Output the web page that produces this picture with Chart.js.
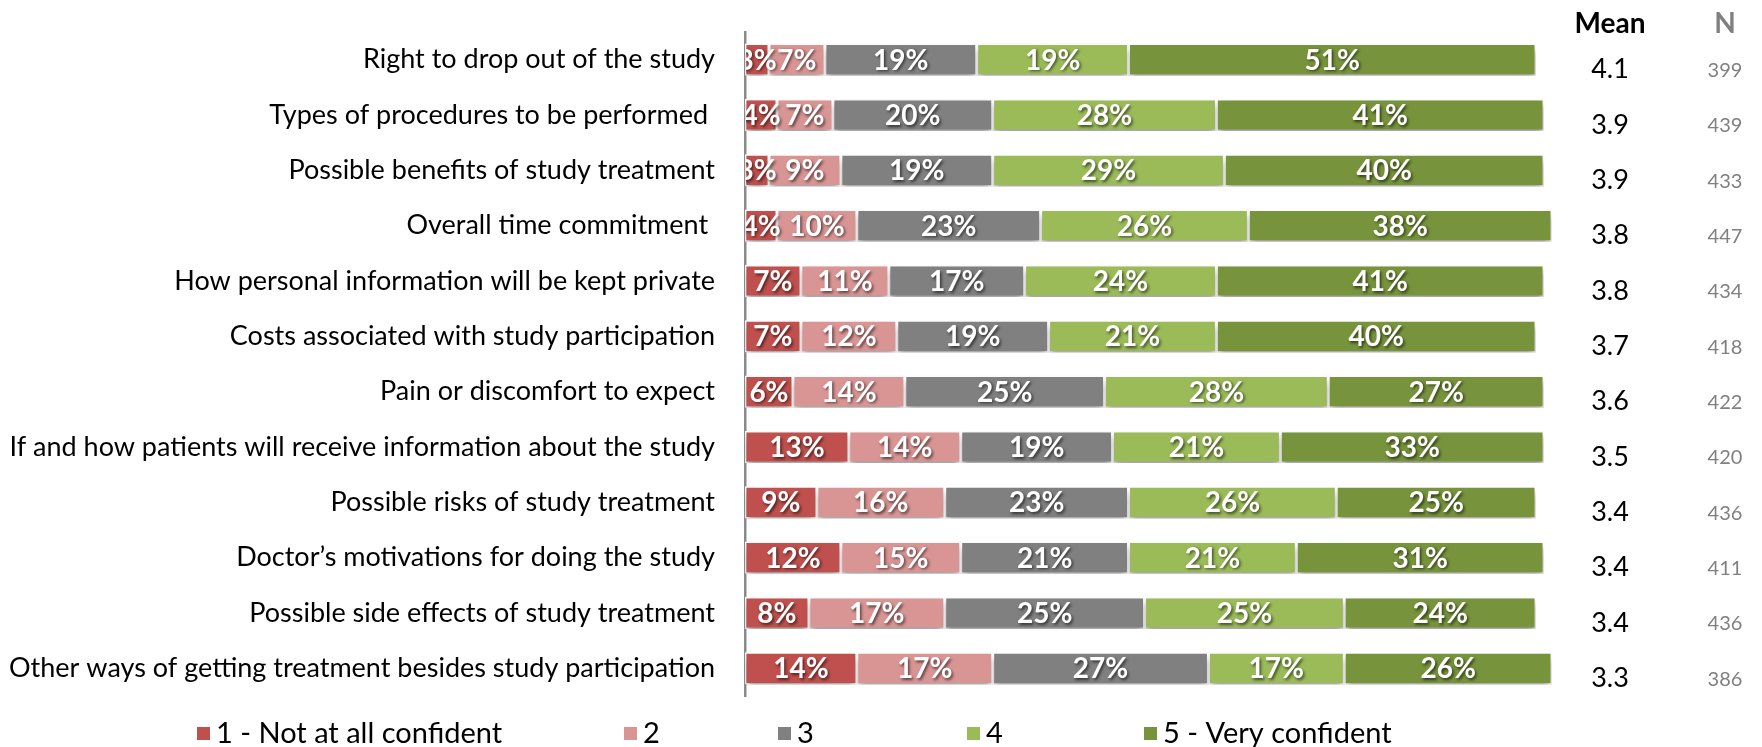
<!DOCTYPE html>
<html>
<head>
<meta charset="utf-8">
<script src="https://cdn.jsdelivr.net/npm/chart.js@4.4.0/dist/chart.umd.min.js"></script>
<style>
  html, body { margin: 0; padding: 0; background: #fff; }
  #wrap { width: 1762px; height: 747px; }
</style>
</head>
<body>
<div id="wrap"><canvas id="chart"></canvas></div>
<script>
// Confidence in understanding each aspect of the study
const items = [
  'Right to drop out of the study',
  'Types of procedures to be performed ',
  'Possible benefits of study treatment',
  'Overall time commitment ',
  'How personal information will be kept private',
  'Costs associated with study participation',
  'Pain or discomfort to expect',
  'If and how patients will receive information about the study',
  'Possible risks of study treatment',
  'Doctor\u2019s motivations for doing the study',
  'Possible side effects of study treatment',
  'Other ways of getting treatment besides study participation'
];
const notAtAll      = [3, 4, 3, 4, 7, 7, 6, 13, 9, 12, 8, 14];
const level2        = [7, 7, 9, 10, 11, 12, 14, 14, 16, 15, 17, 17];
const level3        = [19, 20, 19, 23, 17, 19, 25, 19, 23, 21, 25, 27];
const level4        = [19, 28, 29, 26, 24, 21, 28, 21, 26, 21, 25, 17];
const veryConfident = [51, 41, 40, 38, 41, 40, 27, 33, 25, 31, 24, 26];
const means  = ['4.1', '3.9', '3.9', '3.8', '3.8', '3.7', '3.6', '3.5', '3.4', '3.4', '3.4', '3.3'];
const counts = [399, 439, 433, 447, 434, 418, 422, 420, 436, 411, 436, 386];
const levelNames  = ['1 - Not at all confident', '2', '3', '4', '5 - Very confident'];
const levelColors = ['#C0504D', '#D99594', '#808080', '#9BBB59', '#77933C'];

const FONT = "Lato, 'Open Sans', sans-serif";

// soft drop shadow under the bars + white % labels on each segment
const barDecor = {
  id: 'barDecor',
  beforeDatasetsDraw(chart) {
    const ctx = chart.ctx;
    ctx.save();
    ctx.shadowColor = 'rgba(0,0,0,0.38)';
    ctx.shadowBlur = 7;
    ctx.shadowOffsetX = 0;
    ctx.shadowOffsetY = 5;
  },
  afterDatasetsDraw(chart) {
    const ctx = chart.ctx;
    ctx.restore();
    const area = chart.chartArea;
    ctx.save();
    ctx.beginPath();
    ctx.rect(area.left + 1, 0, chart.width, chart.height);
    ctx.clip();
    ctx.font = 'bold 28px ' + FONT;
    ctx.textAlign = 'center';
    ctx.textBaseline = 'middle';
    ctx.fillStyle = '#fff';
    ctx.shadowColor = 'rgba(0,0,0,0.6)';
    ctx.shadowBlur = 3;
    ctx.shadowOffsetX = 1.5;
    ctx.shadowOffsetY = 1.5;
    chart.data.datasets.forEach((ds, di) => {
      chart.getDatasetMeta(di).data.forEach((bar, i) => {
        const x = (bar.x + bar.base) / 2;
        ctx.fillText(ds.data[i] + '%', x, bar.y + 1);
      });
    });
    ctx.restore();
  }
};

// Mean and N columns to the right of the bars
const sideColumns = {
  id: 'sideColumns',
  afterDraw(chart) {
    const ctx = chart.ctx;
    const y = chart.scales.y;
    const meanX = 1610, nX = 1725;
    ctx.save();
    ctx.textAlign = 'center';
    ctx.textBaseline = 'middle';
    ctx.font = 'bold 28px ' + FONT;
    ctx.fillStyle = '#000';
    ctx.fillText('Mean', meanX, 24);
    ctx.fillStyle = '#808080';
    ctx.fillText('N', nX, 24);
    means.forEach((m, i) => {
      const py = y.getPixelForValue(i);
      ctx.font = '27px ' + FONT;
      ctx.fillStyle = '#000';
      ctx.fillText(m, meanX, py + 10);
      ctx.font = '20px ' + FONT;
      ctx.fillStyle = '#808080';
      ctx.fillText(String(counts[i]), nX, py + 11);
    });
    ctx.restore();
  }
};

// legend row along the bottom
const bottomLegend = {
  id: 'bottomLegend',
  afterDraw(chart) {
    const ctx = chart.ctx;
    const xs = [197, 624, 778, 967, 1144];
    const ly = 733;
    ctx.save();
    ctx.font = '29px ' + FONT;
    ctx.textBaseline = 'middle';
    ctx.textAlign = 'left';
    chart.data.datasets.forEach((ds, i) => {
      ctx.fillStyle = ds.backgroundColor;
      ctx.fillRect(xs[i], ly - 6, 13, 13);
      ctx.fillStyle = '#000';
      ctx.fillText(ds.label, xs[i] + 19, ly + 1);
    });
    ctx.restore();
  }
};

const seriesData = [notAtAll, level2, level3, level4, veryConfident];

new Chart(document.getElementById('chart'), {
  type: 'bar',
  data: {
    labels: items,
    datasets: seriesData.map((d, i) => ({
      label: levelNames[i],
      data: d,
      backgroundColor: levelColors[i],
      borderColor: '#fff',
      borderWidth: 1.5,
      borderSkipped: false,
      barPercentage: 0.58,
      categoryPercentage: 1,
      clip: false
    }))
  },
  options: {
    indexAxis: 'y',
    responsive: true,
    maintainAspectRatio: false,
    animation: false,
    layout: { padding: { top: 32, bottom: 51, right: 218, left: 0 } },
    scales: {
      x: { stacked: true, min: 0, max: 100, display: false },
      y: {
        stacked: true,
        // tick marks hidden, their length only spaces the labels from the axis
        grid: { display: false, drawTicks: true, tickLength: 28 },
        border: { display: true, color: '#8a8a8a', width: 2.5 },
        ticks: { color: '#000', font: { family: FONT, size: 27 }, padding: 2 },
        afterFit(scale) { scale.width = 745; }
      }
    },
    plugins: {
      legend: { display: false },
      tooltip: { enabled: false }
    }
  },
  plugins: [barDecor, sideColumns, bottomLegend]
});
</script>
</body>
</html>
